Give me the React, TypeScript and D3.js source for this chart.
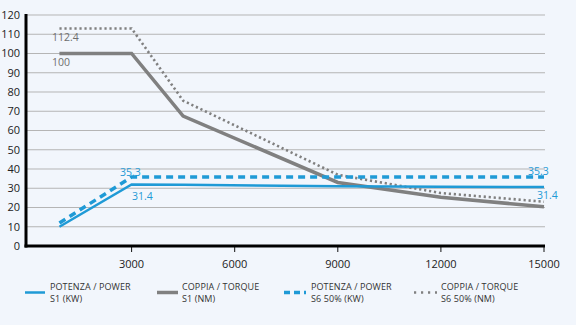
import React from "react";
import * as d3 from "d3";

const rpm = [900, 3000, 4500, 9000, 12000, 15000];
const powerS1 = [10, 32, 31.8, 31, 30.8, 30.6];
const torqueS1 = [100, 100, 67.5, 33, 25.3, 20.4];
const powerS6 = [12, 35.8, 35.8, 35.8, 35.8, 35.8];
const torqueS6 = [113, 113, 75.5, 37, 27.5, 23];
const xTicks = [3000, 6000, 9000, 12000, 15000];
const yTicks = [0, 10, 20, 30, 40, 50, 60, 70, 80, 90, 100, 110, 120];

const BLUE = "#1f9ad6";
const GREY = "#808080";
const FONT = "'Open Sans', sans-serif";

export default function App() {
  const W = 576, H = 325;
  const x = d3.scaleLinear().domain([0, 15000]).range([28.5, 544]);
  const y = d3.scaleLinear().domain([0, 120]).range([246, 15]);
  const line = (vals: number[]) =>
    d3.line<number>().x((_, i) => x(rpm[i])).y((v) => y(v))(vals) || "";

  const legend = [
    { x0: 25, x1: 45, tx: 50, color: BLUE, w: 2.5, dash: "", l1: "POTENZA / POWER", l2: "S1 (KW)" },
    { x0: 157, x1: 178, tx: 182, color: GREY, w: 3.5, dash: "", l1: "COPPIA / TORQUE", l2: "S1 (NM)" },
    { x0: 284, x1: 306, tx: 311, color: BLUE, w: 3.5, dash: "6,4", l1: "POTENZA / POWER", l2: "S6 50% (KW)" },
    { x0: 414, x1: 437, tx: 441, color: GREY, w: 2.6, dash: "2.2,4.8", l1: "COPPIA / TORQUE", l2: "S6 50% (NM)" },
  ];

  return (
    <svg
      width={W}
      height={H}
      style={{ position: "fixed", left: 0, top: 0, background: "#f2f6fc" }}
      fontFamily={FONT}
    >
      <rect width={W} height={H} fill="#f2f6fc" />
      {yTicks.filter((t) => t > 0).map((t) => (
        <line key={t} x1={27} x2={545} y1={y(t)} y2={y(t)} stroke="#b5b5b5" strokeWidth={1} />
      ))}
      {yTicks.map((t) => (
        <text key={"yl" + t} x={20} y={y(t)} dy="0.35em" textAnchor="end" fontSize={11} fill="#222">
          {t}
        </text>
      ))}
      {xTicks.map((t) => (
        <g key={"xt" + t}>
          <line x1={x(t)} x2={x(t)} y1={246} y2={252} stroke="#111" strokeWidth={1} />
          <text x={x(t)} y={268} textAnchor="middle" fontSize={11} fill="#222">
            {t}
          </text>
        </g>
      ))}
      <path d={line(torqueS6)} fill="none" stroke={GREY} strokeWidth={2.6} strokeDasharray="2.2,2.8" />
      <path d={line(torqueS1)} fill="none" stroke={GREY} strokeWidth={3.5} />
      <path d={line(powerS6)} fill="none" stroke={BLUE} strokeWidth={3.5} strokeDasharray="7,5" />
      <path d={line(powerS1)} fill="none" stroke={BLUE} strokeWidth={2.5} />
      <line x1={26} x2={26} y1={14} y2={247.5} stroke="#000" strokeWidth={3} />
      <line x1={24.5} x2={545} y1={246} y2={246} stroke="#000" strokeWidth={3} />

      <text x={52} y={41} fontSize={10.5} fill="#6e6e6e">112.4</text>
      <text x={52} y={66} fontSize={10.5} fill="#6e6e6e">100</text>
      <text x={120} y={176} fontSize={10.5} fill={BLUE}>35.3</text>
      <text x={132} y={200} fontSize={10.5} fill={BLUE}>31.4</text>
      <text x={528} y={175} fontSize={10.5} fill={BLUE}>35.3</text>
      <text x={537} y={199} fontSize={10.5} fill={BLUE}>31.4</text>

      {legend.map((l, i) => (
        <g key={"lg" + i}>
          <line x1={l.x0} x2={l.x1} y1={292.5} y2={292.5} stroke={l.color} strokeWidth={l.w} strokeDasharray={l.dash || undefined} />
          <text x={l.tx} y={289.5} fontSize={9} fill="#333" letterSpacing={0.1}>{l.l1}</text>
          <text x={l.tx} y={301.5} fontSize={9} fill="#333" letterSpacing={0.1}>{l.l2}</text>
        </g>
      ))}
    </svg>
  );
}
